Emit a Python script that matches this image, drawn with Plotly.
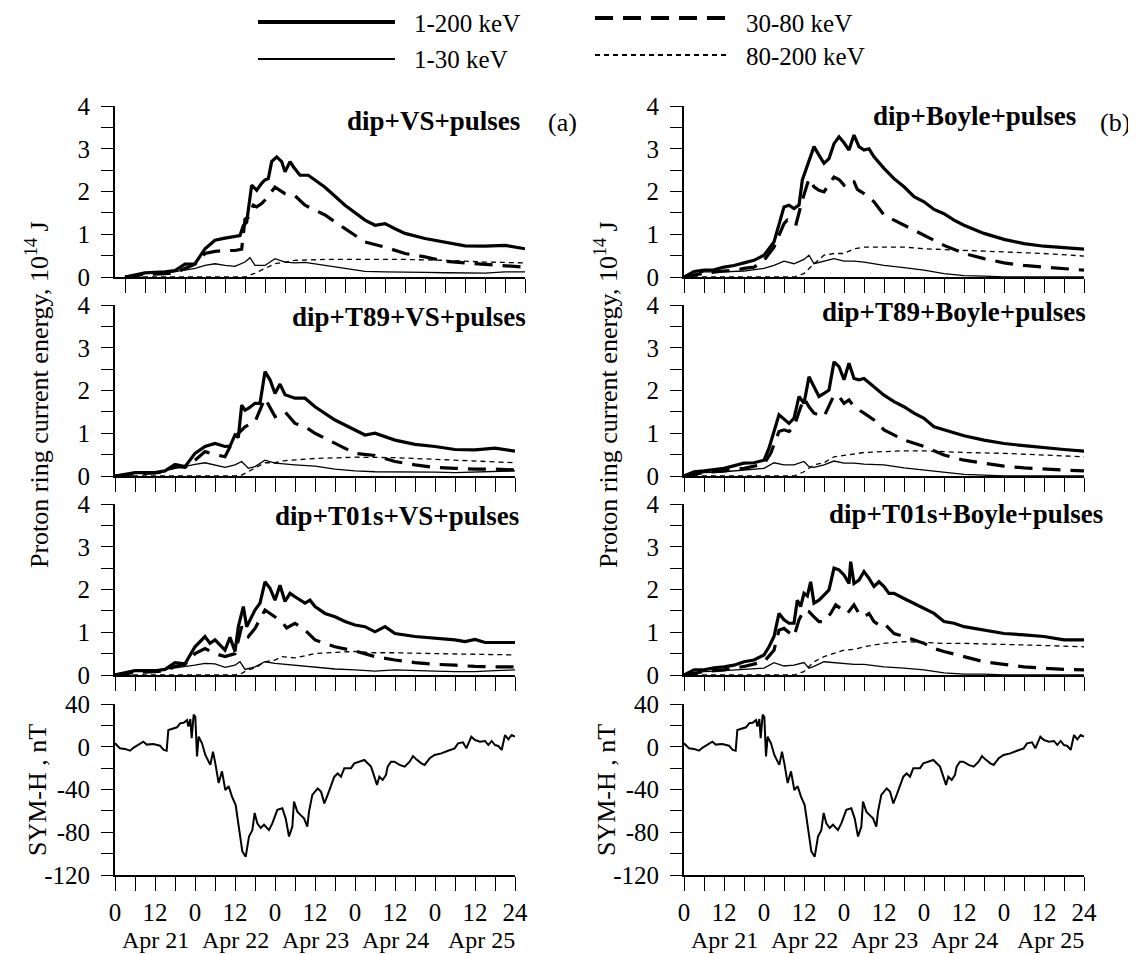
import plotly.graph_objects as go

# ---------------- DATA ----------------
day_labels = ["Apr 21", "Apr 22", "Apr 23", "Apr 24", "Apr 25"]
day_label_hours = [12, 36, 60, 84, 110]
hour_ticks = list(range(0, 121, 6))
hour_ticktext = [str(h % 24) if h % 12 == 0 and h < 120 else ("24" if h == 120 else "") for h in hour_ticks]
energy_ticks = [0, 0.5, 1, 1.5, 2, 2.5, 3, 3.5, 4]
energy_ticktext = ["0", "", "1", "", "2", "", "3", "", "4"]
symh_ticks = [-120, -100, -80, -60, -40, -20, 0, 20, 40]
symh_ticktext = ["-120", "", "-80", "", "-40", "", "0", "", "40"]

panel_titles = ["dip+VS+pulses", "dip+T89+VS+pulses", "dip+T01s+VS+pulses",
                "dip+Boyle+pulses", "dip+T89+Boyle+pulses", "dip+T01s+Boyle+pulses"]
series_names = ["1-200 keV", "30-80 keV", "1-30 keV", "80-200 keV"]

# ---- (a) dip+VS+pulses ----
a1_tot_h = [0, 6, 12, 15, 18, 21, 24, 27, 30, 33, 34.5, 35.5, 36.5, 38, 39.5, 41, 42, 43, 44, 45.5, 47, 48, 49.5, 50.5, 52.5, 55, 56.5, 60, 66, 72, 75, 78, 81, 84, 90, 96, 102, 108, 114, 120]
a1_tot = [0, 0.1, 0.12, 0.15, 0.3, 0.31, 0.66, 0.86, 0.91, 0.95, 0.97, 1.2, 1.28, 2.15, 2.03, 2.19, 2.27, 2.3, 2.7, 2.81, 2.7, 2.46, 2.7, 2.58, 2.38, 2.38, 2.3, 2.1, 1.68, 1.33, 1.21, 1.25, 1.13, 1.02, 0.9, 0.82, 0.73, 0.72, 0.74, 0.66]
a1_mid_h = [0, 6, 12, 15, 18, 21, 24, 27, 30, 33, 35, 36, 37, 38.5, 39.5, 41, 42, 45, 48, 51, 54, 60, 66, 72, 78, 84, 90, 96, 102, 108, 114, 120]
a1_mid = [0, 0.06, 0.08, 0.1, 0.2, 0.3, 0.55, 0.6, 0.62, 0.62, 0.65, 1.35, 1.4, 1.68, 1.64, 1.72, 1.8, 2.1, 1.95, 1.9, 1.68, 1.45, 1.13, 0.82, 0.7, 0.55, 0.47, 0.37, 0.33, 0.3, 0.27, 0.23]
a1_low_h = [0, 6, 12, 15, 18, 21, 24, 27, 30, 33, 36, 37.5, 39, 42, 45, 48, 51, 54, 60, 66, 72, 78, 84, 90, 96, 102, 108, 114, 120]
a1_low = [0, 0.08, 0.09, 0.12, 0.16, 0.2, 0.27, 0.31, 0.27, 0.25, 0.35, 0.45, 0.27, 0.27, 0.43, 0.35, 0.33, 0.34, 0.27, 0.2, 0.13, 0.12, 0.12, 0.11, 0.1, 0.09, 0.09, 0.12, 0.12]
a1_high_h = [0, 36, 39, 42, 45, 48, 51, 60, 72, 84, 96, 108, 120]
a1_high = [0, 0, 0.09, 0.2, 0.31, 0.35, 0.39, 0.41, 0.41, 0.41, 0.39, 0.35, 0.33]

# ---- (a) dip+T89+VS+pulses ----
a2_tot_h = [0, 6, 12, 15, 18, 21, 24, 27, 30, 33, 34.5, 36, 37, 38, 39, 40, 42, 43.5, 45, 46.5, 48, 49.5, 51, 54, 57, 60, 66, 72, 75, 78, 84, 90, 96, 102, 108, 114, 120]
a2_tot = [0, 0.08, 0.08, 0.12, 0.27, 0.22, 0.53, 0.69, 0.76, 0.69, 0.7, 0.96, 0.9, 1.66, 1.54, 1.58, 1.7, 1.7, 2.44, 2.25, 1.93, 2.15, 1.9, 1.82, 1.82, 1.62, 1.31, 1.09, 0.96, 1.0, 0.84, 0.74, 0.69, 0.62, 0.61, 0.65, 0.58]
a2_mid_h = [0, 6, 12, 15, 18, 21, 24, 27, 30, 33, 36, 39, 42, 45, 48, 51, 54, 57, 60, 66, 72, 78, 84, 90, 96, 102, 108, 114, 120]
a2_mid = [0, 0.05, 0.07, 0.1, 0.23, 0.2, 0.37, 0.57, 0.5, 0.45, 0.92, 1.15, 1.27, 1.82, 1.39, 1.5, 1.23, 1.15, 1.0, 0.76, 0.53, 0.48, 0.34, 0.26, 0.2, 0.18, 0.16, 0.16, 0.14]
a2_low_h = [0, 6, 12, 18, 24, 27, 30, 33, 36, 38, 40, 42, 45, 48, 54, 60, 66, 72, 78, 84, 90, 96, 102, 108, 114, 120]
a2_low = [0, 0.06, 0.08, 0.18, 0.27, 0.31, 0.26, 0.2, 0.26, 0.34, 0.18, 0.22, 0.37, 0.3, 0.26, 0.23, 0.16, 0.12, 0.1, 0.1, 0.09, 0.09, 0.08, 0.09, 0.11, 0.12]
a2_high_h = [0, 36, 38, 40, 42, 45, 48, 51, 60, 72, 84, 96, 108, 120]
a2_high = [0, 0, 0.02, 0.1, 0.18, 0.31, 0.31, 0.36, 0.41, 0.44, 0.43, 0.39, 0.35, 0.31]

# ---- (a) dip+T01s+VS+pulses ----
a3_tot_h = [0, 6, 12, 15, 18, 21, 24, 27, 28.5, 30, 33, 34.5, 36, 37, 38.5, 39.5, 42, 43.5, 45, 46.5, 48, 49.5, 51, 52.5, 54, 57, 58.5, 60, 63, 66, 69, 72, 75, 78, 81, 84, 90, 96, 102, 105, 108, 111, 120]
a3_tot = [0, 0.1, 0.1, 0.13, 0.29, 0.26, 0.66, 0.9, 0.74, 0.82, 0.58, 0.88, 0.55, 1.13, 1.6, 1.13, 1.52, 1.68, 2.18, 2.03, 1.75, 2.1, 1.72, 1.91, 1.83, 1.68, 1.75, 1.6, 1.44, 1.36, 1.25, 1.17, 1.13, 1.01, 1.13, 0.97, 0.9, 0.86, 0.82, 0.78, 0.83, 0.76, 0.76]
a3_mid_h = [0, 6, 12, 15, 18, 21, 24, 27, 30, 33, 36, 38, 40, 42, 45, 48, 50, 51.5, 54, 57, 60, 66, 72, 78, 84, 90, 96, 102, 108, 114, 120]
a3_mid = [0, 0.06, 0.08, 0.1, 0.2, 0.25, 0.5, 0.62, 0.5, 0.43, 0.5, 1.13, 0.9, 1.09, 1.52, 1.36, 1.25, 1.1, 1.21, 1.05, 0.82, 0.66, 0.56, 0.43, 0.35, 0.29, 0.25, 0.23, 0.2, 0.19, 0.19]
a3_low_h = [0, 6, 12, 18, 24, 27, 30, 33, 36, 37.5, 39, 42, 45, 48, 51, 54, 60, 66, 72, 78, 84, 90, 96, 102, 108, 114, 120]
a3_low = [0, 0.1, 0.1, 0.16, 0.23, 0.27, 0.26, 0.18, 0.23, 0.31, 0.13, 0.19, 0.31, 0.27, 0.25, 0.23, 0.19, 0.14, 0.12, 0.09, 0.12, 0.1, 0.09, 0.08, 0.08, 0.1, 0.12]
a3_high_h = [0, 36, 38, 40, 42, 45, 48, 50, 54, 60, 66, 72, 78, 84, 96, 108, 120]
a3_high = [0, 0, 0.04, 0.12, 0.16, 0.31, 0.35, 0.43, 0.4, 0.5, 0.53, 0.55, 0.52, 0.52, 0.5, 0.48, 0.47]

# ---- (b) dip+Boyle+pulses ----
b1_tot_h = [0, 3, 6, 9, 12, 15, 18, 21, 24, 27, 30, 31.5, 33, 34.5, 35.5, 37.5, 39, 40.5, 42, 43.5, 45, 46.5, 48, 49.5, 51, 52.5, 54, 55.5, 57, 60, 63, 66, 69, 72, 75, 78, 81, 84, 87, 90, 96, 102, 108, 114, 120]
b1_tot = [0, 0.13, 0.16, 0.17, 0.23, 0.27, 0.33, 0.39, 0.51, 0.82, 1.64, 1.68, 1.6, 1.68, 2.27, 2.7, 3.05, 2.85, 2.66, 2.77, 3.12, 3.28, 3.14, 2.97, 3.32, 3.05, 2.97, 3.0, 2.81, 2.54, 2.3, 2.11, 1.88, 1.76, 1.58, 1.48, 1.33, 1.21, 1.11, 1.02, 0.88, 0.78, 0.72, 0.68, 0.65]
b1_mid_h = [0, 6, 12, 15, 18, 21, 24, 27, 30, 31, 33.5, 35.5, 37.5, 39, 40.5, 42, 45, 46.5, 48, 49.5, 51, 52, 54, 57, 60, 66, 72, 78, 84, 90, 96, 102, 108, 114, 120]
b1_mid = [0, 0.09, 0.14, 0.16, 0.2, 0.23, 0.39, 0.7, 1.25, 1.33, 1.2, 1.8, 2.3, 2.11, 2.03, 1.99, 2.34, 2.28, 2.15, 2.27, 2.23, 2.05, 1.95, 1.76, 1.45, 1.21, 0.98, 0.74, 0.55, 0.43, 0.33, 0.27, 0.23, 0.2, 0.16]
b1_low_h = [0, 6, 12, 18, 24, 27, 30, 33, 36, 37.5, 39, 42, 45, 48, 51, 54, 60, 66, 72, 78, 84, 90, 96, 120]
b1_low = [0, 0.12, 0.12, 0.14, 0.2, 0.27, 0.37, 0.31, 0.41, 0.51, 0.31, 0.37, 0.43, 0.37, 0.37, 0.35, 0.27, 0.22, 0.16, 0.08, 0.03, 0.02, 0, 0]
b1_high_h = [0, 33, 36, 39, 42, 45, 48, 51, 54, 60, 66, 72, 78, 84, 96, 108, 120]
b1_high = [0, 0, 0.08, 0.31, 0.51, 0.55, 0.55, 0.66, 0.7, 0.7, 0.7, 0.66, 0.64, 0.62, 0.59, 0.55, 0.49]

# ---- (b) dip+T89+Boyle+pulses ----
b2_tot_h = [0, 3, 6, 12, 18, 21, 24, 25.5, 28.5, 31.5, 33, 34.5, 36, 37.5, 39, 40.5, 42, 43.5, 45, 46.5, 48, 49.5, 51, 52.5, 54, 57, 60, 63, 66, 69, 72, 75, 78, 81, 84, 90, 96, 102, 108, 114, 120]
b2_tot = [0, 0.1, 0.12, 0.18, 0.3, 0.31, 0.37, 0.65, 1.43, 1.23, 1.35, 1.86, 1.7, 2.32, 2.09, 1.86, 1.93, 2.01, 2.67, 2.56, 2.25, 2.64, 2.28, 2.25, 2.28, 2.09, 1.89, 1.74, 1.62, 1.47, 1.35, 1.15, 1.08, 1.0, 0.94, 0.84, 0.76, 0.71, 0.66, 0.62, 0.58]
b2_mid_h = [0, 6, 12, 18, 24, 26, 28.5, 30, 31.5, 33, 34.5, 36, 37.5, 39, 42, 45, 46.5, 48, 49.5, 51, 54, 57, 60, 66, 72, 78, 84, 90, 96, 102, 108, 114, 120]
b2_mid = [0, 0.08, 0.12, 0.18, 0.28, 0.53, 1.04, 1.08, 1.04, 1.15, 1.5, 1.82, 1.62, 1.47, 1.39, 1.89, 1.86, 1.7, 1.78, 1.62, 1.47, 1.31, 1.08, 0.84, 0.69, 0.49, 0.37, 0.3, 0.23, 0.19, 0.16, 0.14, 0.12]
b2_low_h = [0, 6, 12, 18, 24, 27, 30, 33, 34.5, 36, 37.5, 39, 42, 45, 48, 51, 54, 60, 66, 72, 78, 84, 90, 96, 120]
b2_low = [0, 0.08, 0.1, 0.14, 0.18, 0.31, 0.26, 0.26, 0.3, 0.34, 0.22, 0.2, 0.26, 0.35, 0.3, 0.3, 0.28, 0.26, 0.19, 0.14, 0.08, 0.04, 0.02, 0, 0]
b2_high_h = [0, 33, 36, 39, 42, 45, 48, 51, 54, 60, 66, 72, 78, 84, 96, 108, 120]
b2_high = [0, 0, 0.1, 0.26, 0.31, 0.45, 0.48, 0.51, 0.55, 0.57, 0.59, 0.59, 0.57, 0.55, 0.53, 0.49, 0.45]

# ---- (b) dip+T01s+Boyle+pulses ----
b3_tot_h = [0, 3, 6, 9, 12, 15, 18, 21, 24, 25.5, 27, 28.5, 30, 31.5, 33, 34, 35, 36, 37, 38, 39, 40.5, 42, 43.5, 45, 46.5, 48, 49.5, 50, 51, 52.5, 54, 55.5, 57, 58.5, 60, 61.5, 63, 66, 69, 72, 75, 78, 81, 84, 90, 96, 102, 108, 114, 120]
b3_tot = [0, 0.12, 0.12, 0.17, 0.19, 0.23, 0.31, 0.35, 0.47, 0.66, 0.9, 1.44, 1.29, 1.21, 1.21, 1.75, 1.6, 1.91, 1.85, 2.18, 1.68, 1.75, 1.87, 1.99, 2.5, 2.46, 2.34, 2.14, 2.65, 2.14, 2.22, 2.42, 2.26, 2.07, 2.18, 2.07, 1.91, 1.91, 1.79, 1.68, 1.56, 1.44, 1.25, 1.21, 1.13, 1.05, 0.97, 0.94, 0.9, 0.82, 0.82]
b3_mid_h = [0, 6, 12, 18, 24, 27, 28.5, 30, 33, 34.5, 36, 37.5, 39, 40.5, 42, 44, 45.5, 47, 49, 51, 52.5, 54, 55.5, 57, 58.5, 60, 63, 66, 69, 72, 75, 78, 84, 90, 96, 102, 108, 114, 120]
b3_mid = [0, 0.08, 0.12, 0.2, 0.31, 0.58, 1.05, 1.09, 0.9, 1.29, 1.52, 1.48, 1.36, 1.25, 1.25, 1.44, 1.64, 1.56, 1.44, 1.64, 1.44, 1.36, 1.44, 1.25, 1.17, 1.21, 0.97, 0.9, 0.82, 0.74, 0.62, 0.55, 0.43, 0.31, 0.25, 0.19, 0.16, 0.13, 0.12]
b3_low_h = [0, 6, 12, 18, 24, 27, 30, 33, 36, 37.5, 39, 42, 45, 48, 51, 54, 60, 66, 72, 78, 84, 90, 96, 120]
b3_low = [0, 0.08, 0.1, 0.13, 0.16, 0.29, 0.21, 0.23, 0.29, 0.16, 0.2, 0.31, 0.29, 0.26, 0.25, 0.25, 0.19, 0.16, 0.12, 0.05, 0.02, 0.02, 0, 0]
b3_high_h = [0, 33, 36, 39, 42, 45, 48, 51, 54, 57, 60, 66, 72, 78, 84, 96, 108, 120]
b3_high = [0, 0, 0.08, 0.31, 0.43, 0.51, 0.58, 0.6, 0.66, 0.7, 0.74, 0.78, 0.76, 0.74, 0.74, 0.72, 0.69, 0.66]

# ---- SYM-H index (nT) ----
symh_h = [0, 1.5, 3, 4.5, 5.5, 7, 8.5, 9.5, 11.5, 13.5, 14.6, 15.5, 16, 17, 18.6, 19.6, 20.6, 21.6, 22, 22.6, 23, 23.6, 24.1, 24.6, 25.1, 26.1, 27.1, 28.6, 29.4, 30.1, 31.1, 32.1, 33.1, 34.1, 35.1, 36.2, 37.2, 38.2, 39.2, 40.2, 41.2, 41.9, 42.7, 43.7, 44.7, 46.2, 47.2, 48.7, 50.2, 51.2, 52.2, 53.2, 53.7, 54.7, 55.7, 56.7, 57.7, 58.2, 59.2, 60.8, 61.8, 62.8, 63.8, 64.8, 65.8, 66.8, 67.8, 68.8, 70.8, 71.8, 73.3, 74.8, 75.8, 76.8, 77.8, 78.6, 79.3, 80.3, 81.3, 81.8, 82.8, 83.8, 85.4, 86.9, 88.4, 89.4, 90.4, 91.9, 92.9, 94.4, 95.9, 97.9, 99.9, 101.9, 102.9, 104.4, 105.4, 106.9, 108, 109.5, 111, 112, 113, 114, 115, 116, 117, 118, 119, 120]
symh = [3.2, -1.5, -2, -3.7, -1, 2.3, 4.8, 2, 2.6, 1, -3, -3.7, 15.7, 16.6, 18.2, 22, 22.5, 25, 19, 26, 8, 30, 28, -9, 9.5, 3.2, -7.7, -17, -4.6, -15.5, -34, -23, -40.5, -37, -46.7, -54.5, -78, -98, -103, -84, -78, -62, -71.7, -76, -73, -78, -71.7, -59, -57.6, -67, -84, -74.8, -51.4, -60.7, -64, -67, -74.8, -60.7, -45, -39, -42, -53, -45, -35.8, -28, -25, -28, -20, -20, -15.5, -14, -12.4, -15.5, -18.6, -28, -35.8, -28, -31, -26.4, -18.6, -14, -14, -17, -18.6, -14, -8.7, -11.8, -15.5, -17, -10.8, -7.7, -6.2, -3.7, -1.5, 3.2, 4.1, -1.5, 9.4, 6.3, 4.8, 5.4, 1.6, 5.4, 1.6, 0.7, -3, 11, 7, 11, 9.4]

# ---------------- FIGURE ----------------
# the page body has an 8px margin, so the figure is placed at (8, 8) in the window
OFF = 8
W, H = 1136 - OFF, 954 - OFF
FONT = "Liberation Serif"
TICK_SIZE = 25
PAD = "\u00a0"   # gap between y tick labels and ticks


def px(x):
    return (x - OFF) / W


def py(y):
    return 1 - (y - OFF) / H


styles = [
    dict(color="black", width=3.2),                     # 1-200 keV
    dict(color="black", width=3.2, dash="18px,10px"),   # 30-80 keV
    dict(color="black", width=1.3),                     # 1-30 keV
    dict(color="black", width=1.3, dash="5px,4px"),     # 80-200 keV
]

panels = [
    (a1_tot_h, a1_tot, a1_mid_h, a1_mid, a1_low_h, a1_low, a1_high_h, a1_high),
    (a2_tot_h, a2_tot, a2_mid_h, a2_mid, a2_low_h, a2_low, a2_high_h, a2_high),
    (a3_tot_h, a3_tot, a3_mid_h, a3_mid, a3_low_h, a3_low, a3_high_h, a3_high),
    (b1_tot_h, b1_tot, b1_mid_h, b1_mid, b1_low_h, b1_low, b1_high_h, b1_high),
    (b2_tot_h, b2_tot, b2_mid_h, b2_mid, b2_low_h, b2_low, b2_high_h, b2_high),
    (b3_tot_h, b3_tot, b3_mid_h, b3_mid, b3_low_h, b3_low, b3_high_h, b3_high),
]

# pixel geometry of the panels (window pixels)
row_px = [(106, 277), (305, 476), (504, 675), (704, 875)]
col_px = [(115, 515), (684, 1084)]

fig = go.Figure()
layout = dict(
    width=W, height=H, margin=dict(l=0, r=0, t=0, b=0, pad=0, autoexpand=False),
    paper_bgcolor="white", plot_bgcolor="white", showlegend=False,
    font=dict(family=FONT, size=TICK_SIZE, color="black"),
)

ax = 0
for col in range(2):
    for row in range(4):
        ax += 1
        xa = "x" if ax == 1 else f"x{ax}"
        ya = "y" if ax == 1 else f"y{ax}"
        x0, x1 = col_px[col]
        xrange = [0, 120]
        if col == 0 and row == 0:
            x1 = 525
            xrange = [-3, 120]
        y0, y1 = row_px[row]
        bottom = row == 3
        xaxis = dict(
            domain=[px(x0), px(x1)], range=xrange, anchor=ya, automargin=False,
            tickmode="array", tickvals=hour_ticks,
            ticktext=hour_ticktext if bottom else [""] * len(hour_ticks),
            showticklabels=bottom, ticks="outside", ticklen=14, tickwidth=1.3,
            tickcolor="black", showline=True, linecolor="black", linewidth=1.5,
            showgrid=False, zeroline=False,
            tickfont=dict(family=FONT, size=TICK_SIZE),
        )
        if bottom:
            yaxis = dict(range=[-120, 40], tickvals=symh_ticks,
                         ticktext=[t + PAD if t else "" for t in symh_ticktext])
        else:
            yaxis = dict(range=[0, 4], tickvals=energy_ticks,
                         ticktext=[t + PAD if t else "" for t in energy_ticktext])
        yaxis.update(
            domain=[py(y1), py(y0)], anchor=xa, tickmode="array", automargin=False,
            ticks="outside", ticklen=12, tickwidth=1.3, tickcolor="black",
            showline=True, linecolor="black", linewidth=1.5, showgrid=False,
            zeroline=False,
            tickfont=dict(family=FONT, size=TICK_SIZE),
        )
        layout["xaxis" if ax == 1 else f"xaxis{ax}"] = xaxis
        layout["yaxis" if ax == 1 else f"yaxis{ax}"] = yaxis

        if bottom:
            fig.add_trace(go.Scatter(x=symh_h, y=symh, mode="lines",
                                     line=dict(color="black", width=2),
                                     xaxis=xa, yaxis=ya, name="SYM-H"))
        else:
            p = panels[col * 3 + row]
            for s in range(4):
                fig.add_trace(go.Scatter(x=p[2 * s], y=p[2 * s + 1], mode="lines",
                                         line=styles[s], xaxis=xa, yaxis=ya,
                                         name=series_names[s]))

annotations = []
shapes = []

# panel titles
title_pos = [(522, 121), (528, 317), (521, 516), (1078, 116), (1088, 312), (1105, 514)]
for t, (tx, ty) in zip(panel_titles, title_pos):
    annotations.append(dict(text=f"<b>{t}</b>", x=px(tx), y=py(ty), xref="paper", yref="paper",
                            xanchor="right", yanchor="middle", showarrow=False,
                            font=dict(family=FONT, size=27)))
for lab, lx in (("(a)", 562), ("(b)", 1115)):
    annotations.append(dict(text=lab, x=px(lx), y=py(122), xref="paper", yref="paper",
                            xanchor="center", yanchor="middle", showarrow=False,
                            font=dict(family=FONT, size=26)))

# y-axis titles
for lx in (37, 606):
    annotations.append(dict(text="Proton ring current energy, 10<sup>14</sup> J",
                            x=px(lx), y=py(395), xref="paper", yref="paper",
                            textangle=-90, xanchor="center", yanchor="middle",
                            showarrow=False, font=dict(family=FONT, size=26)))
    annotations.append(dict(text="SYM-H , nT", x=px(lx), y=py(790), xref="paper", yref="paper",
                            textangle=-90, xanchor="center", yanchor="middle",
                            showarrow=False, font=dict(family=FONT, size=26)))

# day labels under both bottom axes
for xa in ("x4", "x8"):
    for d, h in zip(day_labels, day_label_hours):
        annotations.append(dict(text=d, x=h, y=py(940), xref=xa, yref="paper",
                                xanchor="center", yanchor="middle", showarrow=False,
                                font=dict(family=FONT, size=24)))

# legend (drawn at the top of the figure): line y, text y
legend_items = [
    (series_names[0], styles[0], 258, 395, 22, 24),
    (series_names[2], styles[2], 258, 395, 59, 60),
    (series_names[1], styles[1], 595, 727, 18, 24),
    (series_names[3], styles[3], 595, 727, 55, 56),
]
for name, st, lx0, lx1, ly, ty in legend_items:
    shapes.append(dict(type="line", xref="paper", yref="paper",
                       x0=px(lx0), x1=px(lx1), y0=py(ly), y1=py(ly),
                       line=dict(color="black", width=st["width"] + 0.6, dash=st.get("dash", "solid"))))
    annotations.append(dict(text=name, x=px(lx1 + 17), y=py(ty), xref="paper", yref="paper",
                            xanchor="left", yanchor="middle", showarrow=False,
                            font=dict(family=FONT, size=25)))

layout["annotations"] = annotations
layout["shapes"] = shapes
fig.update_layout(**layout)
fig.write_html("out.html")
